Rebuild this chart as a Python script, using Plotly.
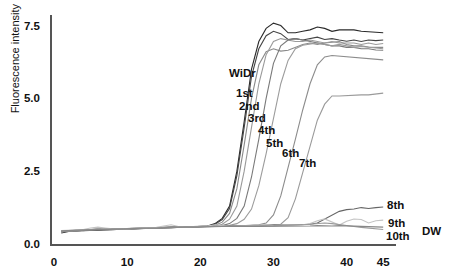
import plotly.graph_objects as go

cycles = list(range(1, 46))

widr = [0.38,0.43,0.45,0.46,0.47,0.49,0.48,0.50,0.50,0.51,0.52,0.53,0.54,0.55,0.56,0.56,0.57,0.58,0.59,0.60,
        0.62,0.70,0.88,1.30,2.50,4.20,6.00,6.95,7.40,7.58,7.50,7.25,7.25,7.30,7.35,7.45,7.40,7.30,7.35,7.35,7.35,7.30,7.28,7.25,7.25]
s1st = [0.42,0.44,0.46,0.47,0.48,0.50,0.49,0.50,0.51,0.52,0.52,0.53,0.54,0.55,0.55,0.56,0.57,0.58,0.58,0.60,
        0.61,0.68,0.84,1.22,2.35,4.00,5.75,6.70,7.15,7.30,7.22,7.02,7.05,7.00,7.05,7.10,7.02,7.05,7.00,6.96,7.00,6.95,7.00,6.98,7.00]
s2nd = [0.44,0.46,0.45,0.48,0.50,0.52,0.50,0.49,0.51,0.53,0.54,0.53,0.55,0.56,0.57,0.58,0.57,0.58,0.59,0.60,
        0.60,0.64,0.75,1.05,1.90,3.40,5.00,6.15,6.60,6.70,6.62,6.65,6.75,6.85,6.90,6.85,6.90,6.92,6.95,6.85,6.80,6.80,6.76,6.75,6.75]
s3rd = [0.41,0.45,0.47,0.46,0.49,0.51,0.50,0.52,0.50,0.52,0.53,0.54,0.56,0.55,0.56,0.57,0.58,0.57,0.59,0.60,
        0.60,0.61,0.68,0.85,1.30,2.50,4.00,5.50,6.50,6.95,7.05,7.00,6.95,6.95,7.00,6.95,6.90,6.95,6.90,6.90,6.90,6.85,6.90,6.85,6.88]
s4th = [0.43,0.45,0.46,0.48,0.49,0.50,0.51,0.50,0.52,0.52,0.53,0.55,0.54,0.56,0.57,0.57,0.58,0.59,0.59,0.60,
        0.61,0.61,0.63,0.70,0.88,1.30,2.30,3.60,5.00,6.20,6.80,7.00,7.05,7.00,6.95,6.90,6.85,6.80,6.80,6.75,6.75,6.70,6.70,6.66,6.65]
s5th = [0.42,0.44,0.46,0.47,0.50,0.51,0.49,0.51,0.52,0.51,0.53,0.54,0.55,0.55,0.56,0.58,0.57,0.58,0.60,0.60,
        0.60,0.61,0.62,0.64,0.70,0.85,1.20,2.00,3.10,4.30,5.50,6.30,6.70,6.82,6.85,6.90,6.85,6.80,6.85,6.80,6.75,6.78,6.75,6.72,6.70]
s6th = [0.44,0.46,0.47,0.47,0.49,0.50,0.50,0.51,0.52,0.53,0.52,0.54,0.55,0.56,0.56,0.57,0.58,0.58,0.59,0.60,
        0.60,0.61,0.61,0.62,0.62,0.63,0.64,0.66,0.72,1.00,1.65,2.60,3.60,4.60,5.50,6.15,6.42,6.47,6.45,6.42,6.40,6.38,6.35,6.33,6.32]
s7th = [0.43,0.45,0.46,0.48,0.48,0.50,0.51,0.51,0.52,0.52,0.54,0.54,0.55,0.55,0.57,0.57,0.58,0.59,0.59,0.60,
        0.60,0.60,0.61,0.62,0.62,0.63,0.63,0.64,0.64,0.65,0.68,0.90,1.55,2.45,3.40,4.25,4.80,5.08,5.08,5.10,5.10,5.12,5.12,5.15,5.18]
s8th = [0.45,0.46,0.47,0.49,0.49,0.50,0.50,0.52,0.52,0.53,0.53,0.54,0.55,0.56,0.56,0.57,0.58,0.59,0.59,0.60,
        0.60,0.61,0.61,0.62,0.62,0.62,0.63,0.63,0.64,0.64,0.65,0.65,0.66,0.66,0.68,0.72,0.85,1.00,1.12,1.18,1.20,1.25,1.22,1.25,1.27]
s9th = [0.46,0.47,0.48,0.50,0.55,0.58,0.55,0.52,0.52,0.53,0.54,0.54,0.55,0.57,0.62,0.66,0.60,0.58,0.59,0.60,
        0.62,0.66,0.63,0.60,0.61,0.62,0.62,0.63,0.66,0.63,0.64,0.65,0.64,0.66,0.70,0.80,0.86,0.75,0.65,0.78,0.86,0.84,0.72,0.80,0.82]
s10th = [0.44,0.46,0.47,0.48,0.50,0.50,0.51,0.51,0.52,0.53,0.54,0.54,0.55,0.55,0.57,0.57,0.58,0.58,0.59,0.60,
         0.60,0.60,0.61,0.61,0.62,0.62,0.62,0.63,0.63,0.63,0.64,0.64,0.65,0.66,0.68,0.70,0.72,0.70,0.66,0.62,0.60,0.57,0.55,0.52,0.50]
dw = [0.45,0.45,0.47,0.48,0.49,0.51,0.50,0.51,0.51,0.53,0.53,0.54,0.54,0.56,0.56,0.58,0.57,0.58,0.58,0.59,
      0.59,0.60,0.60,0.60,0.61,0.60,0.61,0.60,0.60,0.61,0.60,0.60,0.60,0.61,0.62,0.63,0.62,0.62,0.63,0.62,0.60,0.60,0.59,0.58,0.58]

series_names = ["WiDr", "1st", "2nd", "3rd", "4th", "5th", "6th", "7th", "8th", "9th", "10th", "DW"]
series_values = [widr, s1st, s2nd, s3rd, s4th, s5th, s6th, s7th, s8th, s9th, s10th, dw]
series_colors = ["#2a2a2a", "#444444", "#8a8a8a", "#9a9a9a", "#7a7a7a", "#9c9c9c",
                 "#8c8c8c", "#9a9a9a", "#666666", "#c4c4c4", "#9a9a9a", "#888888"]

x_ticks = [0, 10, 20, 30, 40, 45]
y_ticks = [0, 2.5, 5.0, 7.5]

# curve labels: (text, x, y) in data units
inner_labels = [("WiDr", 25.8, 5.87), ("1st", 26.0, 5.18), ("2nd", 26.6, 4.74),
                ("3rd", 27.7, 4.33), ("4th", 29.06, 3.91), ("5th", 30.15, 3.47),
                ("6th", 32.33, 3.12), ("7th", 34.65, 2.78)]
end_labels = [("8th", 1.34, 2), ("9th", 0.72, 3), ("10th", 0.27, 1), ("DW", 0.45, 37)]

fig = go.Figure()
for name, vals, col in zip(series_names, series_values, series_colors):
    fig.add_trace(go.Scatter(x=cycles, y=vals, mode="lines", name=name,
                             line=dict(color=col, width=1.1), showlegend=False))

lab_font = dict(family="Liberation Sans, Arial, sans-serif", size=11.5, color="#111111")
for t, x, y in inner_labels:
    fig.add_annotation(x=x, y=y, text="<b>%s</b>" % t, showarrow=False, font=lab_font,
                       xanchor="center", yanchor="middle")
for t, y, shift in end_labels:
    fig.add_annotation(x=45, y=y, text="<b>%s</b>" % t, showarrow=False, font=lab_font,
                       xanchor="left", yanchor="middle", xshift=shift)

fig.add_annotation(xref="paper", yref="paper", x=-0.108, y=0.81, textangle=-90,
                   xanchor="center", yanchor="middle",
                   text="Fluorescence intensity", showarrow=False,
                   font=dict(family="Liberation Sans, Arial, sans-serif", size=11, color="#111111"))

tick_font = dict(family="Liberation Sans, Arial, sans-serif", size=11.5, color="#111111")
fig.update_xaxes(range=[-0.27, 46.75], tickvals=x_ticks,
                 ticktext=["<b>%d</b>" % v for v in x_ticks], automargin=False,
                 showgrid=False, zeroline=False, showline=True, linecolor="#555555", linewidth=1.5,
                 ticks="", tickfont=tick_font, ticklabelstandoff=6)
fig.update_yaxes(range=[0, 7.86], tickvals=y_ticks,
                 ticktext=["<b>%.1f</b>" % v for v in y_ticks], automargin=False,
                 showgrid=False, zeroline=False, showline=True, linecolor="#555555", linewidth=1.5,
                 ticks="", tickfont=tick_font, ticklabelstandoff=8)
fig.update_layout(width=451, height=269, margin=dict(l=52, r=55, t=15, b=25, autoexpand=False),
                  plot_bgcolor="white", paper_bgcolor="white")
fig.write_html("out.html", config={"displayModeBar": False},
               post_script="document.body.style.margin='0';document.body.style.overflow='hidden';")
